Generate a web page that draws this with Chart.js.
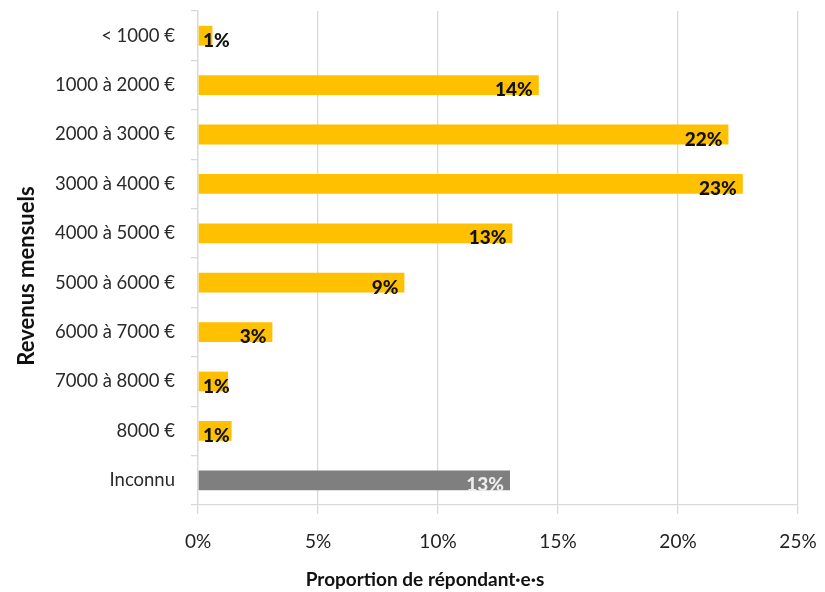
<!DOCTYPE html>
<html>
<head>
<meta charset="utf-8">
<script src="https://cdn.jsdelivr.net/npm/chart.js@4"></script>
<style>
    html, body { margin: 0; padding: 0; background: #fff; }
    #wrap { width: 825px; height: 592px; }
</style>
</head>
<body>
<div id="wrap"><canvas id="revenusChart" width="825" height="592"></canvas></div>
<script>
// Data
const categories = ['< 1000 €', '1000 à 2000 €', '2000 à 3000 €', '3000 à 4000 €', '4000 à 5000 €',
    '5000 à 6000 €', '6000 à 7000 €', '7000 à 8000 €', '8000 €', 'Inconnu'];
const shares = [0.6, 14.2, 22.1, 22.7, 13.1, 8.6, 3.1, 1.25, 1.4, 13.0];
const shareLabels = ['1%', '14%', '22%', '23%', '13%', '9%', '3%', '1%', '1%', '13%'];
const xTicks = [0, 5, 10, 15, 20, 25];
const xTitle = 'Proportion de répondant·e·s';
const yTitle = 'Revenus mensuels';

const FONT = 'Lato, "Open Sans", sans-serif';
const YELLOW = '#FFC000';
const GREY = '#7F7F7F';

// Value labels drawn at the end of each bar
const barLabels = {
    id: 'barLabels',
    afterDatasetsDraw(chart) {
        const { ctx, chartArea } = chart;
        const meta = chart.getDatasetMeta(0);
        ctx.save();
        ctx.font = '900 19px ' + FONT;
        ctx.textAlign = 'right';
        ctx.textBaseline = 'middle';
        meta.data.forEach((bar, i) => {
            const text = shareLabels[i];
            const w = ctx.measureText(text).width;
            const x = Math.max(bar.x - 6, chartArea.left + 5 + w);
            ctx.fillStyle = categories[i] === 'Inconnu' ? '#EDEDED' : '#111';
            ctx.fillText(text, x, bar.y + 5);
        });
        ctx.restore();
    }
};

// Axis titles, placed like in the original picture
const axisTitles = {
    id: 'axisTitles',
    afterDraw(chart) {
        const { ctx } = chart;
        ctx.save();
        ctx.fillStyle = '#111';
        ctx.font = 'bold 19px ' + FONT;
        ctx.textAlign = 'center';
        ctx.textBaseline = 'middle';
        ctx.fillText(xTitle, 425, 580);
        ctx.translate(27, 276);
        ctx.rotate(-Math.PI / 2);
        ctx.font = 'bold 22px ' + FONT;
        ctx.fillText(yTitle, 0, 0);
        ctx.restore();
    }
};

new Chart(document.getElementById('revenusChart'), {
    type: 'bar',
    data: {
        labels: categories,
        datasets: [{
            data: shares,
            backgroundColor: ctx => categories[ctx.dataIndex] === 'Inconnu' ? GREY : YELLOW,
            barPercentage: 0.8,
            categoryPercentage: 0.5
        }]
    },
    options: {
        indexAxis: 'y',
        responsive: false,
        animation: false,
        layout: { padding: { top: 11, right: 27, bottom: 0, left: 0 } },
        plugins: {
            legend: { display: false },
            tooltip: { enabled: false }
        },
        scales: {
            x: {
                min: 0,
                max: 25,
                afterBuildTicks: axis => { axis.ticks = xTicks.map(v => ({ value: v })); },
                afterFit: axis => {
                    axis.height = 87;
                    axis.paddingLeft = 0;
                    axis.paddingRight = 0;
                },
                grid: { color: '#D9D9D9', lineWidth: 1.3, tickLength: 9 },
                border: { color: '#D9D9D9', width: 1.3 },
                ticks: {
                    color: '#222',
                    font: { family: FONT, size: 19 },
                    padding: 16,
                    callback: v => v + '%'
                }
            },
            y: {
                afterFit: axis => {
                    axis.width = 198;
                    axis.paddingTop = 0;
                    axis.paddingBottom = 0;
                },
                grid: { drawOnChartArea: false, color: '#D9D9D9', lineWidth: 1.3, tickLength: 7 },
                border: { color: '#D9D9D9', width: 1.3 },
                ticks: {
                    color: '#2a2a2a',
                    font: { family: FONT, size: 18.5 },
                    padding: 16
                }
            }
        }
    },
    plugins: [barLabels, axisTitles]
});
</script>
</body>
</html>
